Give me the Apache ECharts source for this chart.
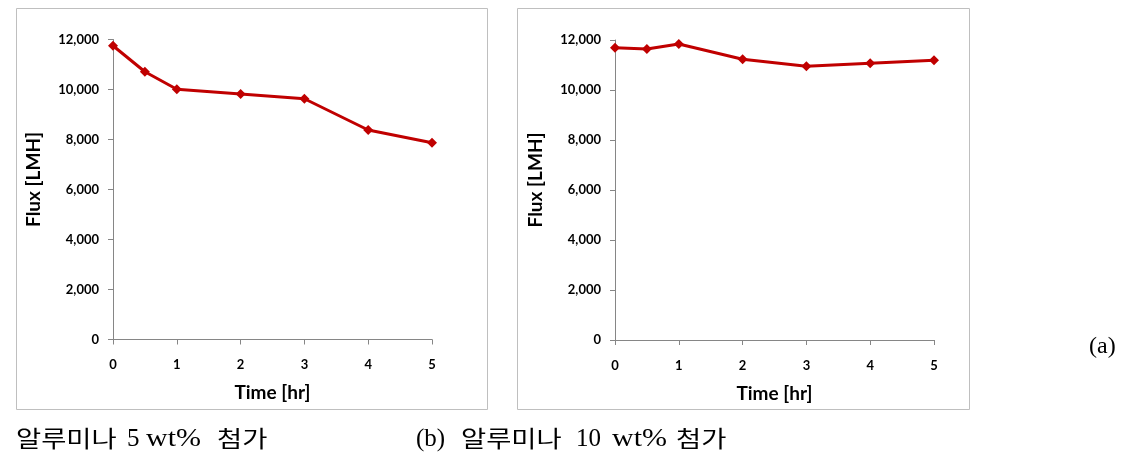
<!DOCTYPE html>
<html><head><meta charset="utf-8">
<script src="https://cdn.jsdelivr.net/npm/echarts@6/dist/echarts.min.js"></script>
<style>
html,body{margin:0;padding:0;background:#fff}
#wrap{position:relative;width:1125px;height:457px}
#c{position:absolute;left:0;top:0;width:1125px;height:457px}
.cap{position:absolute;font-family:"Liberation Serif","DejaVu Serif","Noto Sans CJK KR",serif;font-size:23px;line-height:23px;color:#000;white-space:nowrap}
.w{position:absolute;top:0;transform-origin:0 50%}
</style>
</head><body><div id="wrap"><div id="c"></div>
<div class="cap" id="capA" style="left:0;top:428px"></div>
<div class="cap" id="capB" style="left:0;top:428px"></div>
<div class="cap" id="tag" style="left:1089px;top:333px;font-size:24px;line-height:24px"></div>
</div>
<script>
const timeA = [0, 0.5, 1, 2, 3, 4, 5];
const fluxA = [11750, 10710, 10010, 9820, 9630, 8380, 7870];
const timeB = [0, 0.5, 1, 2, 3, 4, 5];
const fluxB = [11690, 11640, 11840, 11230, 10950, 11070, 11190];
const yTicks = [0, 2000, 4000, 6000, 8000, 10000, 12000];
const xTicks = [0, 1, 2, 3, 4, 5];
const captionA = ['알루미나', '5', 'wt%', '첨가'];
const captionB = ['(b)', '알루미나', '10', 'wt%', '첨가'];
const panelTag = '(a)';

// caption word placement (layout, not data)
const capAx = [16, 127, 146, 217];
const capBx = [416, 461, 576, 612, 676];
function placeWords(el, words, xs) {
  words.forEach((w, i) => {
    const s = document.createElement('span');
    s.className = 'w';
    s.style.left = xs[i] + 'px';
    if (/^[\x00-\x7F]+$/.test(w)) {
      s.style.fontSize = '25px'; s.style.top = '-2px';
      if (w === 'wt%') s.style.transform = 'scaleX(1.2)';
    } else {
      s.style.transform = 'scaleX(1.19)';
    }
    s.textContent = w;
    el.appendChild(s);
  });
}
placeWords(document.getElementById('capA'), captionA, capAx);
placeWords(document.getElementById('capB'), captionB, capBx);
document.getElementById('tag').textContent = panelTag;

const chart = echarts.init(document.getElementById('c'));
const fmt = v => v.toLocaleString('en-US');
const font = 'Lato, "Open Sans", sans-serif';
const red = '#c00000';
const axisCol = '#868686';

function xAxis(idx) {
  return {
    gridIndex: idx, type: 'value', min: xTicks[0], max: xTicks[xTicks.length-1], interval: 1,
    name: 'Time [hr]', nameLocation: 'middle', nameGap: 44,
    nameTextStyle: {fontFamily: font, fontWeight: 'bold', fontSize: 19, color: '#000'},
    axisLine: {show: true, lineStyle: {color: axisCol, width: 1}},
    axisTick: {show: true, length: 5, lineStyle: {color: axisCol}},
    axisLabel: {fontFamily: font, fontWeight: 'bold', fontSize: 13, color: '#000', margin: 19},
    splitLine: {show: false}
  };
}
function yAxis(idx) {
  return {
    gridIndex: idx, type: 'value', min: yTicks[0], max: yTicks[yTicks.length-1], interval: 2000,
    name: 'Flux [LMH]', nameLocation: 'middle', nameGap: 70,
    nameTextStyle: {fontFamily: font, fontWeight: 'bold', fontSize: 19, color: '#000', padding: [0,0,0,20]},
    axisLine: {show: true, lineStyle: {color: axisCol, width: 1}},
    axisTick: {show: true, length: 5, lineStyle: {color: axisCol}},
    axisLabel: {fontFamily: font, fontWeight: 'bold', fontSize: 13, color: '#000', margin: 14, formatter: fmt},
    splitLine: {show: false}
  };
}
function series(idx, xs, ys) {
  return {
    type: 'line', xAxisIndex: idx, yAxisIndex: idx,
    data: xs.map((x, i) => [x, ys[i]]),
    symbol: 'diamond', symbolSize: 10,
    lineStyle: {color: red, width: 3},
    itemStyle: {color: red},
    animation: false
  };
}

chart.setOption({
  animation: false,
  backgroundColor: '#fff',
  grid: [
    {left: 113, top: 39.5, width: 319, height: 300},
    {left: 615, top: 40, width: 319, height: 300}
  ],
  xAxis: [xAxis(0), xAxis(1)],
  yAxis: [yAxis(0), yAxis(1)],
  series: [series(0, timeA, fluxA), series(1, timeB, fluxB)],
  graphic: [
    {type: 'rect', shape: {x: 16.5, y: 8.5, width: 471, height: 401}, style: {fill: null, stroke: '#bfbfbf', lineWidth: 1}, z: -1},
    {type: 'rect', shape: {x: 517.5, y: 8.5, width: 452, height: 401}, style: {fill: null, stroke: '#bfbfbf', lineWidth: 1}, z: -1}
  ]
});
</script></body></html>
